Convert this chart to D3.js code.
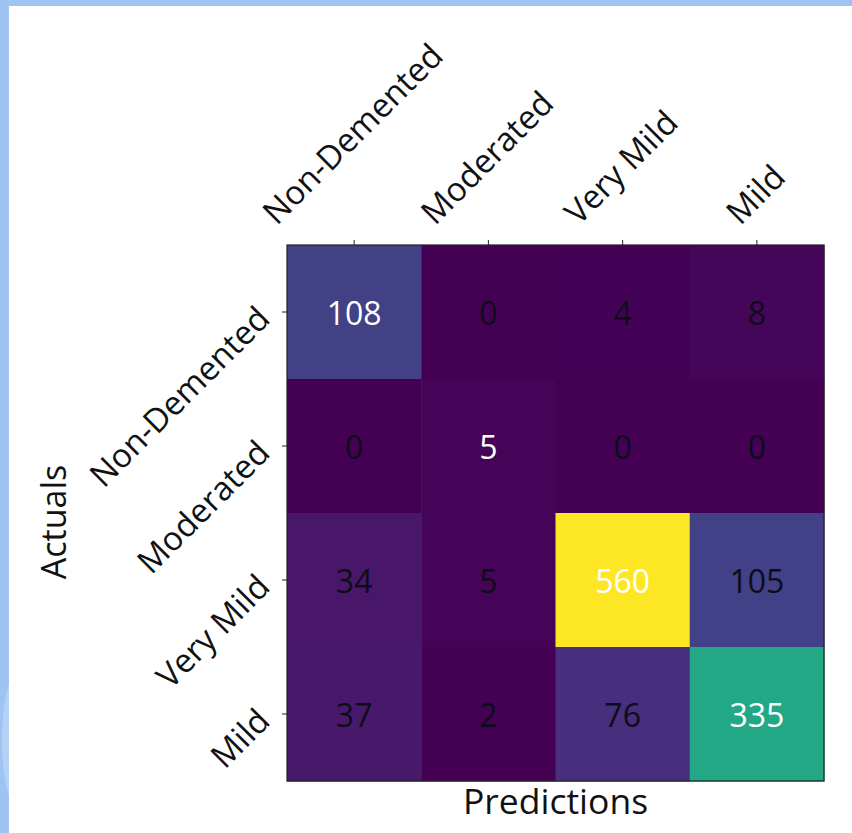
<!DOCTYPE html>
<html>
<head>
<meta charset="utf-8">
<script src="https://cdn.jsdelivr.net/npm/d3@7"></script>
<style>
  html, body { margin: 0; padding: 0; background: #ffffff; }
  svg { display: block; }
  text { font-family: "Open Sans", "Noto Sans", sans-serif; }
</style>
</head>
<body>
<script>
// ---- data ----
const categories = ["Non-Demented", "Moderated", "Very Mild", "Mild"];
const actualNonDemented = [108, 0, 4, 8];
const actualModerated   = [0, 5, 0, 0];
const actualVeryMild    = [34, 5, 560, 105];
const actualMild        = [37, 2, 76, 335];
const rows = [actualNonDemented, actualModerated, actualVeryMild, actualMild];
const xAxisTitle = "Predictions";
const yAxisTitle = "Actuals";

const W = 852, H = 833;
const plot = { left: 287, top: 245, right: 824, bottom: 781 };

const svg = d3.select("body").append("svg").attr("width", W).attr("height", H);

// page decoration: blue frame on top and left
svg.append("rect").attr("x", 0).attr("y", 0).attr("width", W).attr("height", H).attr("fill", "#ffffff");
svg.append("rect").attr("x", 0).attr("y", 0).attr("width", W).attr("height", 6).attr("fill", "#9fc4f3");
svg.append("rect").attr("x", 0).attr("y", 0).attr("width", 9).attr("height", H).attr("fill", "#9fc4f3");
svg.append("defs").append("clipPath").attr("id", "band").append("rect")
  .attr("x", 0).attr("y", 0).attr("width", 9).attr("height", H);
svg.append("ellipse").attr("clip-path", "url(#band)")
  .attr("cx", 30).attr("cy", 740).attr("rx", 28).attr("ry", 85)
  .attr("fill", "#b4d2f6");

const x = d3.scaleBand().domain(categories).range([plot.left, plot.right]);
const y = d3.scaleBand().domain(categories).range([plot.top, plot.bottom]);
const color = d3.scaleSequential(d3.interpolateViridis).domain([0, d3.max(rows.flat())]);

const cells = [];
rows.forEach((r, i) => r.forEach((v, j) => cells.push({ a: categories[i], p: categories[j], v, diag: i === j })));

svg.append("g").selectAll("rect").data(cells).join("rect")
  .attr("x", d => x(d.p)).attr("y", d => y(d.a))
  .attr("width", x.bandwidth() + 0.5).attr("height", y.bandwidth() + 0.5)
  .attr("fill", d => color(d.v));

svg.append("g").selectAll("text").data(cells).join("text")
  .attr("x", d => x(d.p) + x.bandwidth() / 2)
  .attr("y", d => y(d.a) + y.bandwidth() / 2)
  .attr("text-anchor", "middle").attr("dominant-baseline", "central")
  .attr("font-size", 32)
  .attr("fill", d => d.diag ? "#ffffff" : "#0d0d1a")
  .text(d => d.v);

// frame
svg.append("rect").attr("x", plot.left).attr("y", plot.top)
  .attr("width", plot.right - plot.left).attr("height", plot.bottom - plot.top)
  .attr("fill", "none").attr("stroke", "#222").attr("stroke-width", 1.2);

// axes (ticks)
const gx = svg.append("g").attr("transform", `translate(0,${plot.top})`)
  .call(d3.axisTop(x).tickSize(5).tickSizeOuter(0));
const gy = svg.append("g").attr("transform", `translate(${plot.left},0)`)
  .call(d3.axisLeft(y).tickSize(5).tickSizeOuter(0));
[gx, gy].forEach(g => {
  g.select(".domain").remove();
  g.selectAll(".tick line").attr("stroke", "#222").attr("stroke-width", 1);
  g.selectAll(".tick text").remove();
});

const fs = 33;
// x tick labels: rotated 45°, bounding box centred on tick, bottom at ~229
const xl = svg.append("g").selectAll("text").data(categories).join("text")
  .attr("font-size", fs).attr("fill", "#111")
  .attr("text-anchor", "middle").attr("dominant-baseline", "central")
  .text(d => d);
xl.each(function(d) {
  const L = this.getComputedTextLength();
  const h = fs * 1.0;
  const half = (L + h) * Math.SQRT1_2 / 2;
  d3.select(this).attr("transform",
    `translate(${x(d) + x.bandwidth() / 2 - 2},${229 - half}) rotate(-45)`);
});

// y tick labels: right-centre anchored at tick
svg.append("g").selectAll("text").data(categories).join("text")
  .attr("font-size", fs).attr("fill", "#111")
  .attr("text-anchor", "end").attr("dominant-baseline", "central")
  .attr("transform", d => `translate(${plot.left - 24},${y(d) + y.bandwidth() / 2}) rotate(-45)`)
  .text(d => d);

// axis titles
svg.append("text").attr("x", (plot.left + plot.right) / 2).attr("y", 814)
  .attr("text-anchor", "middle").attr("font-size", 35.5).attr("fill", "#111")
  .text(xAxisTitle);
svg.append("text").attr("transform", `translate(66,522) rotate(-90)`)
  .attr("text-anchor", "middle").attr("font-size", 34).attr("fill", "#111")
  .text(yAxisTitle);
</script>
</body>
</html>
